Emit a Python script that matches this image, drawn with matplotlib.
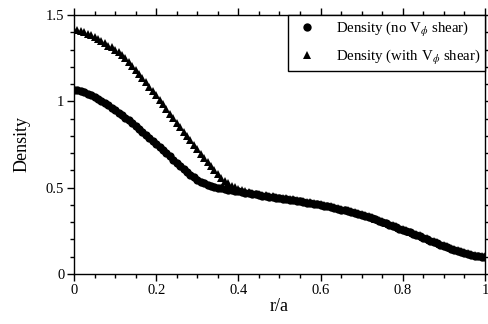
import numpy as np
import matplotlib
matplotlib.use("Agg")
import matplotlib.pyplot as plt
from matplotlib.ticker import MultipleLocator

plt.rcParams['font.family'] = ['Liberation Serif', 'DejaVu Serif']
plt.rcParams['mathtext.fontset'] = 'stix'

r = np.linspace(0, 1, 121)

density_no_shear = [
    1.065, 1.064, 1.059, 1.052, 1.044, 1.034, 1.024, 1.013, 1.002,
    0.990, 0.977, 0.964, 0.950, 0.935, 0.920, 0.905, 0.889, 0.872,
    0.855, 0.838, 0.822, 0.805, 0.788, 0.770, 0.752, 0.735, 0.718,
    0.700, 0.682, 0.663, 0.645, 0.627, 0.610, 0.592, 0.575, 0.560,
    0.545, 0.534, 0.525, 0.518, 0.512, 0.506, 0.500, 0.496, 0.492,
    0.488, 0.485, 0.483, 0.480, 0.476, 0.472, 0.468, 0.464, 0.461,
    0.457, 0.454, 0.450, 0.447, 0.444, 0.441, 0.438, 0.435, 0.433,
    0.430, 0.427, 0.423, 0.420, 0.417, 0.413, 0.410, 0.407, 0.403,
    0.400, 0.396, 0.391, 0.387, 0.382, 0.378, 0.373, 0.368, 0.363,
    0.358, 0.353, 0.347, 0.342, 0.336, 0.330, 0.323, 0.316, 0.308,
    0.300, 0.293, 0.285, 0.278, 0.271, 0.263, 0.256, 0.249, 0.241,
    0.234, 0.226, 0.218, 0.210, 0.202, 0.194, 0.186, 0.178, 0.170,
    0.162, 0.155, 0.147, 0.140, 0.133, 0.127, 0.121, 0.116, 0.111,
    0.106, 0.102, 0.099, 0.098,
]

density_with_shear = [
    1.415, 1.412, 1.407, 1.400, 1.392, 1.384, 1.375, 1.362, 1.348,
    1.335, 1.323, 1.312, 1.300, 1.285, 1.268, 1.250, 1.228, 1.204,
    1.180, 1.157, 1.133, 1.110, 1.085, 1.060, 1.035, 1.008, 0.982,
    0.955, 0.928, 0.902, 0.875, 0.850, 0.825, 0.800, 0.774, 0.748,
    0.722, 0.697, 0.672, 0.648, 0.624, 0.600, 0.578, 0.558, 0.541,
    0.525, 0.512, 0.501, 0.492, 0.485, 0.479, 0.474, 0.470, 0.466,
    0.462, 0.459, 0.455, 0.452, 0.449, 0.446, 0.443, 0.440, 0.438,
    0.435, 0.432, 0.428, 0.425, 0.422, 0.418, 0.415, 0.412, 0.408,
    0.405, 0.401, 0.396, 0.392, 0.387, 0.383, 0.378, 0.373, 0.368,
    0.363, 0.358, 0.352, 0.347, 0.341, 0.335, 0.328, 0.321, 0.313,
    0.305, 0.298, 0.290, 0.283, 0.276, 0.268, 0.261, 0.254, 0.246,
    0.239, 0.231, 0.223, 0.215, 0.207, 0.199, 0.191, 0.183, 0.175,
    0.167, 0.160, 0.152, 0.145, 0.138, 0.132, 0.126, 0.121, 0.116,
    0.111, 0.107, 0.104, 0.102,
]

labels = [r'Density (no V$_\phi$ shear)', r'Density (with V$_\phi$ shear)']

fig = plt.figure(figsize=(4.89, 3.24), dpi=100)
ax = fig.add_axes([74/489, 50/324, (485-74)/489, (274-15)/324])

ax.plot(r, density_no_shear, 'o', color='black', markersize=6.0, label=labels[0],
        markeredgewidth=0)
ax.plot(r, density_with_shear, '^', color='black', markersize=5.4, label=labels[1],
        markeredgewidth=0)

ax.set_xlim(0, 1)
ax.set_ylim(0, 1.5)
ax.xaxis.set_minor_locator(MultipleLocator(0.05))
ax.yaxis.set_minor_locator(MultipleLocator(0.1))
ax.set_xticks([0, 0.2, 0.4, 0.6, 0.8, 1])
ax.set_xticklabels(['0', '0.2', '0.4', '0.6', '0.8', '1'])
ax.set_yticks([0, 0.5, 1, 1.5])
ax.set_yticklabels(['0', '0.5', '1', '1.5'])
ax.tick_params(which='both', direction='out', top=True, right=True,
               labelsize=10.5, width=1, color='black')
ax.tick_params(which='major', length=5, pad=2)
ax.tick_params(which='minor', length=3)
for s in ax.spines.values():
    s.set_linewidth(1)

ax.set_xlabel('r/a', fontsize=13, labelpad=1)
ax.set_ylabel('Density', fontsize=13, labelpad=11)

leg = ax.legend(loc='upper right', fontsize=10.7, frameon=True, fancybox=False,
                edgecolor='black', framealpha=1, borderaxespad=0,
                handletextpad=0.9, borderpad=0.32, markerscale=1.0,
                handlelength=2.0, labelspacing=0.6)
leg.get_frame().set_linewidth(1)

fig.savefig('out.png', dpi=100)
